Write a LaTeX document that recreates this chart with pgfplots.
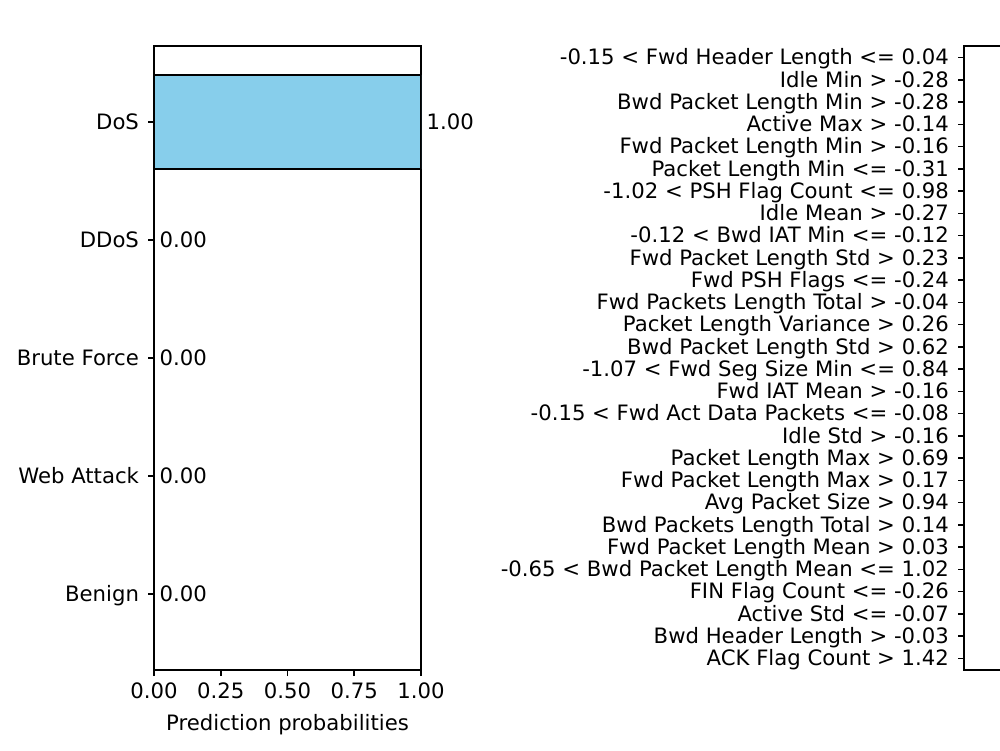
\documentclass[border=0pt]{standalone}
\usepackage{fontspec}
\setmainfont{DejaVu Sans}
\usepackage{pgfplots}
\pgfplotsset{compat=1.18}
\definecolor{skyblue}{HTML}{87CEEB}
\begin{document}
\begin{tikzpicture}[font=\fontsize{10.6}{12.5}\selectfont]
\useasboundingbox (0pt,0pt) rectangle (500pt,375pt);
\clip (0pt,0pt) rectangle (500pt,375pt);
\begin{axis}[
 at={(77pt,40pt)}, anchor=south west,
 scale only axis, width=133.5pt, height=312pt,
 xbar, bar width=0.8,
 xmin=0, xmax=1, ymin=-0.644, ymax=4.644,
 xtick={0,0.25,0.5,0.75,1},
 ytick={0,1,2,3,4}, yticklabels={Benign,Web Attack,Brute Force,DDoS,DoS},
 tick align=outside, major tick length=3pt,
 xtick pos=bottom, ytick pos=left,
 axis line style={line width=0.9pt}, tick style={line width=0.8pt, black},
 xticklabel style={/pgf/number format/.cd,fixed,fixed zerofill,precision=2},
 yticklabel style={xshift=-1pt, text height=0.8em, text depth=0.07em},
 /pgf/number format/assume math mode=true,
 xlabel={Prediction probabilities},
 xlabel style={yshift=-1pt},
 point meta=explicit symbolic,
 nodes near coords,
 nodes near coords style={anchor=west, xshift=-1pt},
]
\addplot[fill=skyblue, draw=black, line width=0.9pt] coordinates {
 (1,4) [1.00]
 (0,3) [0.00]
 (0,2) [0.00]
 (0,1) [0.00]
 (0,0) [0.00]
};
\end{axis}
\begin{axis}[
 at={(482pt,40pt)}, anchor=south west,
 scale only axis, width=100pt, height=312pt,
 xmin=0, xmax=1, ymin=-0.52, ymax=27.52,
 xtick=\empty,
 ytick={0,...,27},
 yticklabels={
 ACK Flag Count > 1.42,
 Bwd Header Length > -0.03,
 Active Std <= -0.07,
 FIN Flag Count <= -0.26,
 -0.65 < Bwd Packet Length Mean <= 1.02,
 Fwd Packet Length Mean > 0.03,
 Bwd Packets Length Total > 0.14,
 Avg Packet Size > 0.94,
 Fwd Packet Length Max > 0.17,
 Packet Length Max > 0.69,
 Idle Std > -0.16,
 -0.15 < Fwd Act Data Packets <= -0.08,
 Fwd IAT Mean > -0.16,
 -1.07 < Fwd Seg Size Min <= 0.84,
 Bwd Packet Length Std > 0.62,
 Packet Length Variance > 0.26,
 Fwd Packets Length Total > -0.04,
 Fwd PSH Flags <= -0.24,
 Fwd Packet Length Std > 0.23,
 -0.12 < Bwd IAT Min <= -0.12,
 Idle Mean > -0.27,
 -1.02 < PSH Flag Count <= 0.98,
 Packet Length Min <= -0.31,
 Fwd Packet Length Min > -0.16,
 Active Max > -0.14,
 Bwd Packet Length Min > -0.28,
 Idle Min > -0.28,
 -0.15 < Fwd Header Length <= 0.04},
 yticklabel style={xshift=-1pt, text height=0.8em, text depth=0.07em},
 tick align=outside, major tick length=3pt,
 ytick pos=left,
 axis line style={line width=0.9pt}, tick style={line width=0.8pt, black},
]
\end{axis}
\end{tikzpicture}
\end{document}
